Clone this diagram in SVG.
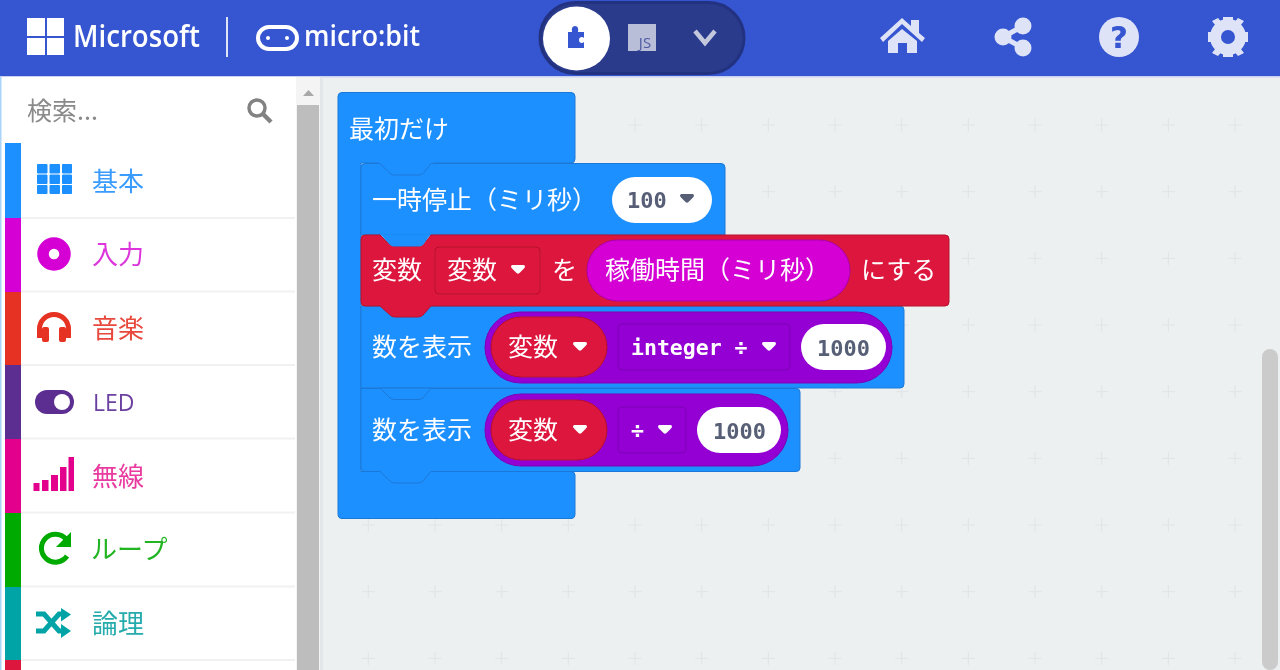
<svg xmlns="http://www.w3.org/2000/svg" width="1280" height="670" viewBox="0 0 1280 670">
<style>
text{font-family:"Noto Sans CJK JP","Noto Sans",sans-serif}
.w{fill:#fff;font-size:25px;dominant-baseline:central}
.cat{font-size:26px;dominant-baseline:central}
.m{font-family:"DejaVu Sans Mono",monospace;font-weight:700;font-size:21.500px;dominant-baseline:central}
.n{font-size:22px;fill:#575e75}
.blk{fill:#1e90ff;stroke:#1a78d6;stroke-width:1}
.red{fill:#dc143c;stroke:#b8112f;stroke-width:1}
.pur{fill:#9400d3;stroke:#7d00b3;stroke-width:1}
.sep{fill:#f1f1f4}
.ic{fill:#dfe3f7}
.sans{font-family:"Open Sans",sans-serif}
</style>
<defs>
<filter id="soft" filterUnits="userSpaceOnUse" x="0" y="0" width="1280" height="670"><feGaussianBlur stdDeviation="0.45"/></filter>
<pattern id="grid" x="1.67" y="25" width="66.67" height="66.67" patternUnits="userSpaceOnUse">
<path d="M26.830 33.330h13M33.330 26.830v13" stroke="#e0e4e7" stroke-width="1.200" fill="none"/>
</pattern>
<path id="dd" d="M-7 -3.500Q-7 -5 -5.500 -5H5.500Q7 -5 7 -3.500Q7 -2.500 5.500 -1L1.500 3Q0 4.500 -1.500 3L-5.500 -1Q-7 -2.500 -7 -3.500Z"/>
</defs>
<g filter="url(#soft)">
<rect width="1280" height="670" fill="#ecf0f1"/>
<rect id="workspace-grid" x="323" y="78" width="957" height="592" fill="url(#grid)"/>

<g id="topbar">
<rect width="1280" height="76" fill="#3454d1"/>
<rect y="76" width="1280" height="1.500" fill="#c9d1f2"/>
<g id="ms-logo" fill="#fff"><rect x="27" y="18" width="18" height="18"/><rect x="47" y="18" width="17" height="18"/><rect x="27" y="38" width="18" height="17"/><rect x="47" y="38" width="17" height="17"/></g>
<text x="73" y="47" font-size="30" font-weight="600" fill="#fff" textLength="127" lengthAdjust="spacingAndGlyphs" class="sans">Microsoft</text>
<rect x="226" y="17" width="2" height="40" fill="#dfe3f7"/>
<g id="mb-logo"><rect x="258" y="27" width="39" height="22" rx="11" fill="none" stroke="#fff" stroke-width="4"/><circle cx="268" cy="38" r="2" fill="#fff"/><circle cx="287" cy="38" r="2" fill="#fff"/></g>
<text x="304" y="46" font-size="28" font-weight="600" fill="#fff" textLength="116" lengthAdjust="spacingAndGlyphs" class="sans">micro:bit</text>
<g id="toggle">
<rect x="540" y="2.500" width="204" height="71" rx="35.500" fill="#2a3a8c" stroke="#233380" stroke-width="3"/>
<ellipse cx="576.500" cy="38.500" rx="33.500" ry="32" fill="#fff"/>
<path d="M568 32h4q-1-6 3-6t3 6h6v6q-1-1-2-1q-3 0-3 3t3 3q1 0 2-1v6h-16z" fill="#3454d1"/>
<rect x="628" y="24" width="28" height="27" fill="#b9bed8"/>
<text x="645" y="48" font-size="15" text-anchor="middle" fill="#4e5aa3" class="sans">JS</text>
<path d="M695 31l10 12l10-12" fill="none" stroke="#c3c8dd" stroke-width="4.500"/>
</g>
<g id="home" class="ic"><path d="M880 38L902 18L911 26V20H919V33L925 38L922 42L902 24L883 42Z"/><path d="M888 41L902 29L917 41V53H907V43H898V53H888Z"/></g>
<g id="share"><circle cx="1003" cy="37" r="8.500" class="ic"/><circle cx="1023" cy="26" r="8.500" class="ic"/><circle cx="1023" cy="48" r="8.500" class="ic"/><path d="M1003 37L1023 26M1003 37L1023 48" stroke="#dfe3f7" stroke-width="5"/></g>
<g id="help"><circle cx="1119" cy="37" r="20" class="ic"/><text x="1119" y="48" font-size="31" font-weight="700" text-anchor="middle" fill="#3454d1" style="font-family:'DejaVu Sans',sans-serif">?</text></g>
<g id="gear"><circle cx="1228" cy="37" r="12.500" fill="none" stroke="#dfe3f7" stroke-width="11"/><path d="M1223 17h10v8h-10zM1223 49h10v8h-10zM1208 32h8v10h-8zM1240 32h8v10h-8z" class="ic"/><path d="M1212 21l6-3l6 7l-5 5zM1244 21l-6-3l-6 7l5 5zM1212 53l6 3l6-7l-5-5zM1244 53l-6 3l-6-7l5-5z" class="ic"/></g>
</g>

<g id="sidebar">
<rect x="0" y="77" width="296" height="593" fill="#fff"/>
<rect x="0" y="77" width="1.500" height="593" fill="#a9d3f7"/>
<text x="27" y="109" font-size="25" fill="#8a8a8a" dominant-baseline="central">検索...</text>
<g id="search-icon" fill="none" stroke="#828282"><circle cx="257" cy="108" r="8" stroke-width="3.500"/><path d="M263 114l8 8" stroke-width="4.500"/></g>
</g>
<g id="sidebar-scroll">
<rect x="296" y="77" width="24" height="593" fill="#f4f4f4"/>
<path d="M303 96l5.500-6l5.500 6z" fill="#a8a8a8"/>
<rect x="297" y="105" width="22" height="565" fill="#bdbdbd"/>
<rect x="320" y="77" width="3" height="593" fill="#e2e6e8"/>
</g>

<g id="cat-basic"><rect x="5" y="143" width="16" height="75" fill="#1e90ff"/><rect x="21" y="217" width="274" height="2" class="sep"/>
<path fill="#1e90ff" stroke="#1e90ff" stroke-width="1" stroke-linejoin="round" d="M37.500 164.500h9.500v8.500h-9.500zM50 164.500h9.500v8.500h-9.500zM62.500 164.500h9v8.500h-9zM37.500 175h9.500v8.500h-9.500zM50 175h9.500v8.500h-9.500zM62.500 175h9v8.500h-9zM37.500 185.500h9.500v8h-9.500zM50 185.500h9.500v8h-9.500zM62.500 185.500h9v8h-9z"/>
<text x="92" y="179" class="cat" fill="#3a9cff">基本</text></g>
<g id="cat-input"><rect x="5" y="218" width="16" height="74" fill="#d400d4"/><rect x="21" y="290.500" width="274" height="2" class="sep"/>
<circle cx="54" cy="254" r="11" fill="none" stroke="#d400d4" stroke-width="11.500"/>
<text x="92" y="252" class="cat" fill="#dc35dc">入力</text></g>
<g id="cat-music"><rect x="5" y="292" width="16" height="73" fill="#e63022"/><rect x="21" y="364" width="274" height="2" class="sep"/>
<path d="M39.500 338V329a14.500 14.500 0 0 1 29 0V338" fill="none" stroke="#e63022" stroke-width="5"/><rect x="42" y="327" width="7" height="15" rx="2" fill="#e63022"/><rect x="59" y="327" width="7" height="15" rx="2" fill="#e63022"/>
<text x="92" y="326" class="cat" fill="#e8483c">音楽</text></g>
<g id="cat-led"><rect x="5" y="365" width="16" height="74" fill="#5c2d91"/><rect x="21" y="437.500" width="274" height="2" class="sep"/>
<rect x="35" y="390" width="39" height="24" rx="12" fill="#5c2d91"/><circle cx="62" cy="402" r="8" fill="#fff"/>
<text x="93" y="402" font-size="23" fill="#6b3fa0" dominant-baseline="central" class="sans">LED</text></g>
<g id="cat-radio"><rect x="5" y="439" width="16" height="74" fill="#e3008c"/><rect x="21" y="511.500" width="274" height="2" class="sep"/>
<path fill="#e3008c" d="M33.500 483h6v8h-6zM42 480h6.500v11h-6.500zM51 475h7v16h-7zM60 467h6.500v24h-6.500zM68.500 457h5.500v34h-5.500z"/>
<text x="92" y="474" class="cat" fill="#e93a9f">無線</text></g>
<g id="cat-loop"><rect x="5" y="513" width="16" height="74" fill="#00aa00"/><rect x="21" y="585.500" width="274" height="2" class="sep"/>
<path d="M66 539a14 14 0 1 0 1 17" fill="none" stroke="#00aa00" stroke-width="5"/><path d="M71 532v15h-15z" fill="#00aa00"/>
<text x="91" y="547" class="cat" fill="#22b422">ループ</text></g>
<g id="cat-logic"><rect x="5" y="587" width="16" height="73" fill="#00a4a6"/><rect x="21" y="659" width="274" height="2" class="sep"/>
<path d="M36 614h8l15 17h4M36 631h8l15-17h4" fill="none" stroke="#00a4a6" stroke-width="5"/><path d="M61 608l10 6.500l-10 7zM61 624l10 7l-10 7z" fill="#00a4a6"/>
<text x="92" y="621" class="cat" fill="#26abad">論理</text></g>
<g id="cat-next"><rect x="5" y="660" width="16" height="10" fill="#dc143c"/></g>

<g id="connectors"></g>

<g id="block-start">
<path class="blk" d="M342 92.500H571Q575 92.500 575 96.500V159Q575 163 571 163H361V471.500H571Q575 471.500 575 475V514Q575 518.500 571 518.500H342Q338 518.500 338 514V96.500Q338 92.500 342 92.500Z"/>
<rect x="378" y="160" width="56" height="17" fill="#1e90ff"/>
<text x="349" y="127" class="w">最初だけ</text>
</g>
<g id="block-pause">
<path class="blk" d="M365 163.500H380L390 173.500Q392 175 395 175H418Q421 175 423 173.500L431 163.500H721Q725 163.500 725 167.500V235H361V167.500Q361 163.500 365 163.500Z"/>
<text x="372" y="198" class="w">一時停止（ミリ秒）</text>
<rect x="612" y="177" width="100" height="46" rx="23" fill="#fff"/>
<text x="627" y="200" class="m n">100</text>
<use href="#dd" x="687" y="199" fill="#575e75"/>
</g>
<g id="block-show1">
<path class="blk" d="M361 306H900Q904 306 904 310V384Q904 388 900 388H361Z"/>
<text x="372" y="345" class="w">数を表示</text>
<rect x="485" y="312" width="407" height="71" rx="35.500" class="pur"/>
<rect x="491" y="317" width="116" height="60" rx="30" class="red"/>
<text x="508" y="345" class="w">変数</text>
<use href="#dd" x="580" y="347" fill="#fff"/>
<rect x="618" y="324" width="172" height="46" rx="4" class="pur"/>
<text x="631" y="347" class="m" fill="#fff">integer ÷</text>
<use href="#dd" x="769" y="347" fill="#fff"/>
<rect x="801" y="324" width="85" height="46" rx="23" fill="#fff"/>
<text x="817" y="348" class="m n">1000</text>
</g>
<g id="block-show2">
<path class="blk" d="M361 388.500H796Q800 388.500 800 392V468Q800 471.500 796 471.500H431L423 481Q421 483 418 483H395Q392 483 390 481L380 471.500H365Q361 471.500 361 468Z"/>
<path class="blk" d="M380 388L390 398Q392 399.500 395 399.500H418Q421 399.500 423 398L431 388Z"/>
<text x="372" y="428" class="w">数を表示</text>
<rect x="485" y="394" width="303" height="72" rx="36" class="pur"/>
<rect x="491" y="400" width="116" height="60" rx="30" class="red"/>
<text x="508" y="428" class="w">変数</text>
<use href="#dd" x="580" y="430" fill="#fff"/>
<rect x="618" y="407" width="68" height="46" rx="4" class="pur"/>
<text x="631" y="430" class="m" fill="#fff">÷</text>
<use href="#dd" x="665" y="430" fill="#fff"/>
<rect x="697" y="407" width="84" height="46" rx="23" fill="#fff"/>
<text x="713" y="431" class="m n">1000</text>
</g>
<g id="block-set">
<path class="red" d="M365 235H380L390 245Q392 246.500 395 246.500H418Q421 246.500 423 245L431 235H945Q949 235 949 239V302Q949 306 945 306H431L423 315Q421 317 418 317H395Q392 317 390 315L380 306H365Q361 306 361 302V239Q361 235 365 235Z"/>
<path d="M380.500 234.500L390 245Q392 246.500 395 246.500H418Q421 246.500 423 245L430.500 234.500Z" fill="#1e90ff"/>
<text x="372" y="268" class="w">変数</text>
<rect x="435" y="247" width="105" height="47" rx="4" class="red"/>
<text x="447" y="268" class="w">変数</text>
<use href="#dd" x="518" y="270" fill="#fff"/>
<text x="552" y="268" class="w">を</text>
<rect x="587" y="240" width="263" height="61" rx="30.500" fill="#d400d4" stroke="#aa00aa"/>
<text x="605" y="268" class="w">稼働時間（ミリ秒）</text>
<text x="861" y="268" class="w">にする</text>
</g>

<rect id="workspace-scroll" x="1262" y="349" width="16" height="321" rx="8" fill="#cbcbcb"/>
</g>
</svg>
